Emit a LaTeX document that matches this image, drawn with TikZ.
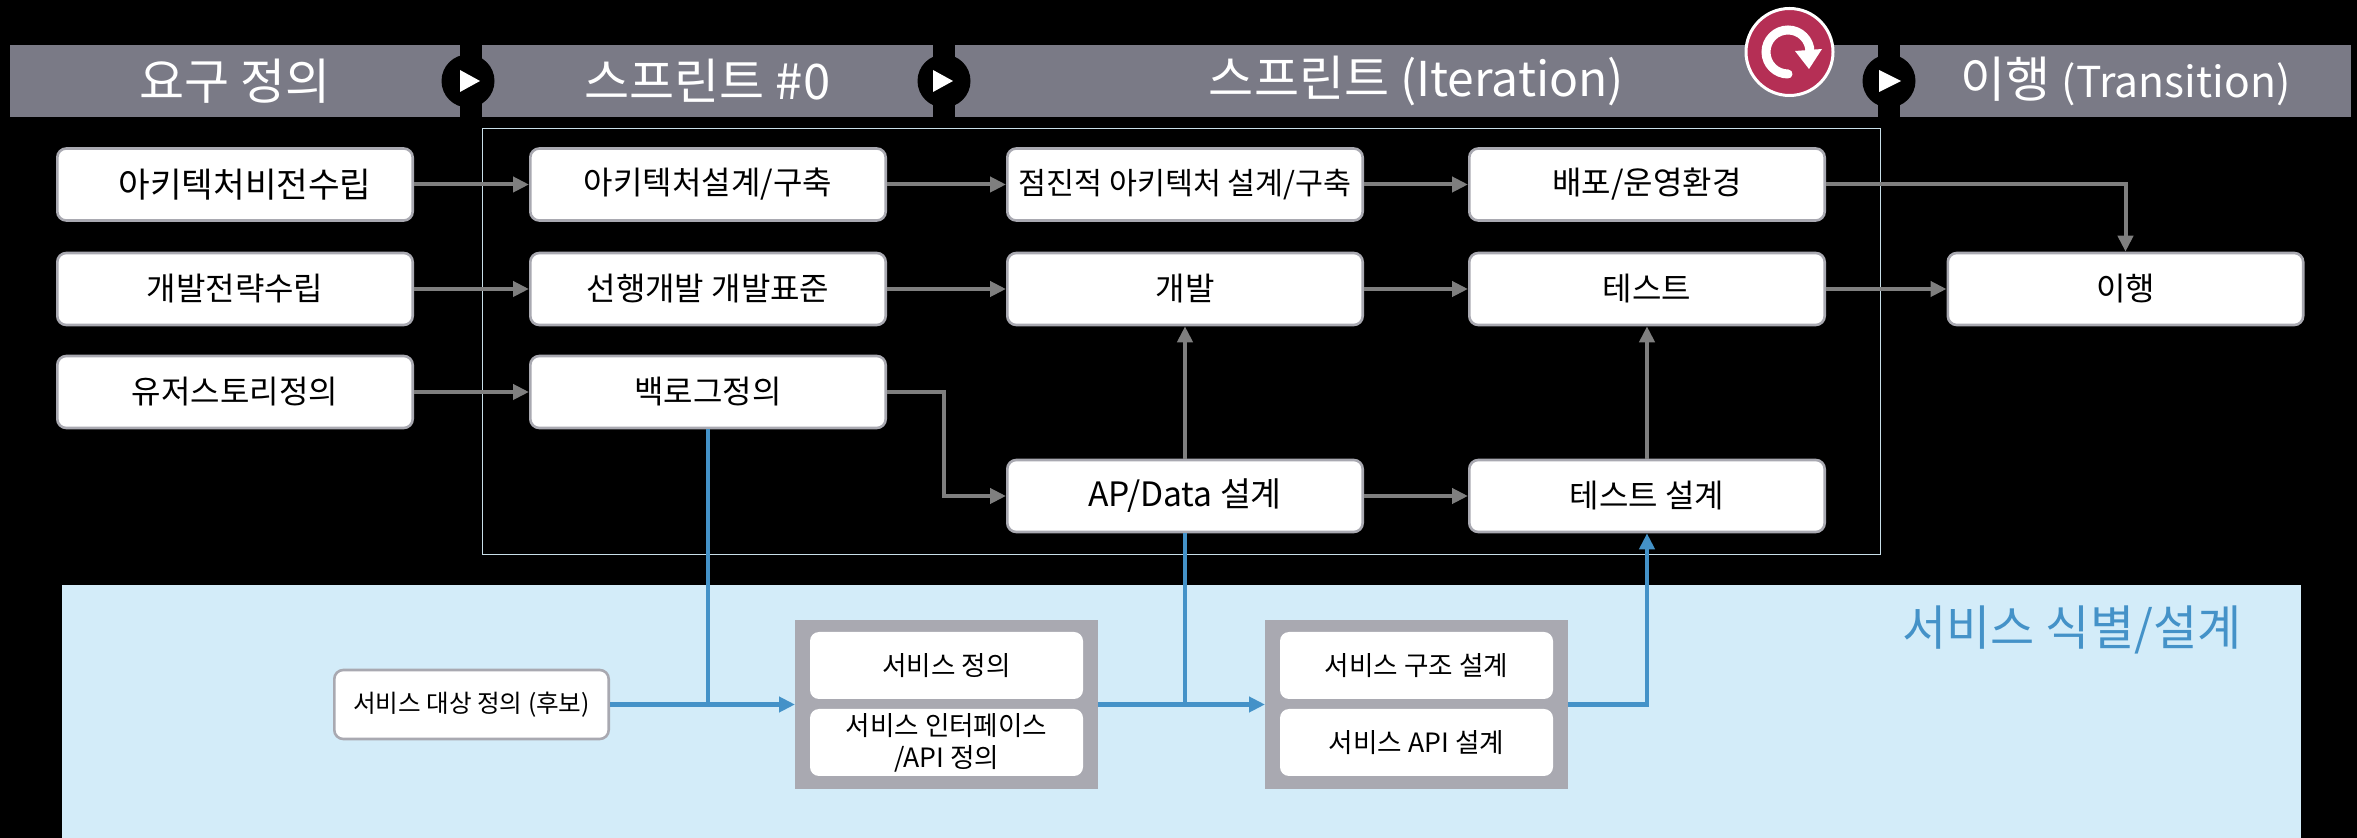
\documentclass[tikz,border=0pt]{standalone}
\usepackage{fontspec}
\setmainfont{Noto Sans CJK KR}
\usetikzlibrary{arrows.meta,calc}
\definecolor{barc}{HTML}{7A7A86}
\definecolor{edgec}{HTML}{A9A9B1}
\definecolor{linec}{HTML}{7F7F7F}
\definecolor{bluec}{HTML}{4492C8}
\definecolor{bandc}{HTML}{D3ECF9}
\definecolor{redc}{HTML}{B52F55}
\definecolor{framec}{HTML}{C8DEE8}
\tikzset{
  x=.5pt,y=-.5pt,
  barbox/.style={fill=barc,draw=none,inner sep=0pt,outer sep=0pt,minimum height=36pt,text=white,font=\fontsize{24.5}{28}\selectfont},
  notch/.style={circle,fill=black,draw=none,minimum size=26.5pt,inner sep=0pt},
  task/.style={rounded corners=4.5pt,fill=white,draw=edgec,line width=1.3pt,minimum width=177.7pt,minimum height=36pt,inner sep=0pt,outer sep=.65pt,font=\fontsize{16}{19}\selectfont,text=black},
  groupbox/.style={fill=edgec,draw=none,minimum width=151.5pt,minimum height=84.5pt,inner sep=0pt,outer sep=0pt},
  inner/.style={rounded corners=4.5pt,fill=white,draw=none,minimum width=136.5pt,minimum height=33.5pt,inner sep=0pt,outer sep=0pt,font=\fontsize{13.3}{16}\selectfont,align=center,text=black},
  gline/.style={draw=linec,line width=2pt,-{Triangle[length=8pt,width=7.5pt]}},
  bline/.style={draw=bluec,line width=2.4pt,-{Triangle[length=8pt,width=7.5pt]}},
  bplain/.style={draw=bluec,line width=2pt},
}
\begin{document}
\begin{tikzpicture}
\fill[black] (0,0) rectangle (2357,838);
\useasboundingbox (0,0) rectangle (2357,838);
% service band
\node[fill=bandc,draw=none,inner sep=0pt,minimum width=1119.5pt,minimum height=126.5pt] (band) at (1181.5,711.5) {};
\node[text=bluec,font=\fontsize{24}{28}\selectfont,inner sep=0pt] (bandtitle) at (2072,630) {서비스 식별/설계};
% header bars
\node[barbox,minimum width=225pt] (b1) at (235,81) {요구 정의};
\node[barbox,minimum width=225.5pt] (b2) at (707.5,81) {스프린트 \#0};
\node[barbox,minimum width=461.5pt] (b3) at (1416.5,81) {스프린트 {\fontsize{24}{28}\selectfont (Iteration)}};
\node[barbox,minimum width=225.5pt] (b4) at (2125.5,81) {이행 {\fontsize{21.3}{25}\selectfont (Transition)}};
\node[notch] (n1) at (468,81) {};
\node[notch] (n2) at (944,81) {};
\node[notch] (n3) at (1889,81) {};
\fill[white] (460,70)--(480,81)--(460,92)--cycle;
\fill[white] (933,70)--(953,81)--(933,92)--cycle;
\fill[white] (1879,70)--(1901,81)--(1879,92)--cycle;
% iteration badge
\node[circle,fill=redc,draw=white,line width=1.5pt,minimum size=43.5pt,inner sep=0pt] (cyc) at (1789.5,52) {};
\draw[white,line width=4.5pt,line cap=round] (1788,74) arc[start angle=90,end angle=360,radius=22];
\fill[white] (1795,51)--(1822,49)--(1809,69)--cycle;
% sprint frame
\node[draw=framec,line width=.4pt,fill=none,minimum width=699pt,minimum height=213pt,inner sep=0pt] (frame) at (1181,341) {};
% tasks
\node[task,font=\fontsize{17.2}{20}\selectfont] (a1) at (235,184.5) {\hspace*{10pt}아키텍처비전수립};
\node[task] (a2) at (235,289) {개발전략수립};
\node[task] (a3) at (235,392) {유저스토리정의};
\node[task] (c1) at (708,184.5) {아키텍처설계/구축};
\node[task] (c2) at (708,289) {선행개발 개발표준};
\node[task] (c3) at (708,392) {백로그정의};
\node[task,font=\fontsize{15.2}{18}\selectfont] (d1) at (1185,184.5) {점진적 아키텍처 설계/구축};
\node[task] (d2) at (1185,289) {개발};
\node[task,font=\fontsize{16.8}{20}\selectfont] (d4) at (1185,496) {AP/Data 설계};
\node[task] (e1) at (1647,184.5) {배포/운영환경};
\node[task] (e2) at (1647,289) {테스트};
\node[task] (e4) at (1647,496) {테스트 설계};
\node[task] (f2) at (2125.5,289) {이행};
% service boxes
\node[task,minimum width=137.2pt,minimum height=34.5pt,font=\fontsize{12.3}{15}\selectfont] (s0) at (471.5,704.5) {서비스 대상 정의 (후보)};
\node[groupbox] (g1) at (946.5,704.5) {};
\node[groupbox] (g2) at (1416.5,704.5) {};
\node[inner] (g1a) at (946.5,665.5) {서비스 정의};
\node[inner] (g1b) at (946.5,742.5) {서비스 인터페이스\\/API 정의};
\node[inner] (g2a) at (1416.5,665.5) {서비스 구조 설계};
\node[inner] (g2b) at (1416.5,742.5) {서비스 API 설계};
% gray connectors
\draw[gline] (a1) -- (c1);
\draw[gline] (a2) -- (c2);
\draw[gline] (a3) -- (c3);
\draw[gline] (c1) -- (d1);
\draw[gline] (c2) -- (d2);
\draw[gline] (d1) -- (e1);
\draw[gline] (d2) -- (e2);
\draw[gline] (e2) -- (f2);
\draw[gline] (e1.east) -| (f2.north);
\draw[gline] (c3.east) -- ++(57,0) |- (d4.west);
\draw[gline] (d4) -- (d2);
\draw[gline] (d4) -- (e4);
\draw[gline] (e4) -- (e2);
% blue connectors
\draw[bplain] (c3.south) -- (c3.south |- g1.west);
\draw[bplain] (d4.south) -- (d4.south |- g2.west);
\draw[bline] (s0.east) -- (g1.west);
\draw[bline] (g1.east) -- (g2.west);
\draw[bline] (g2.east) -| (e4.south);
\end{tikzpicture}
\end{document}
